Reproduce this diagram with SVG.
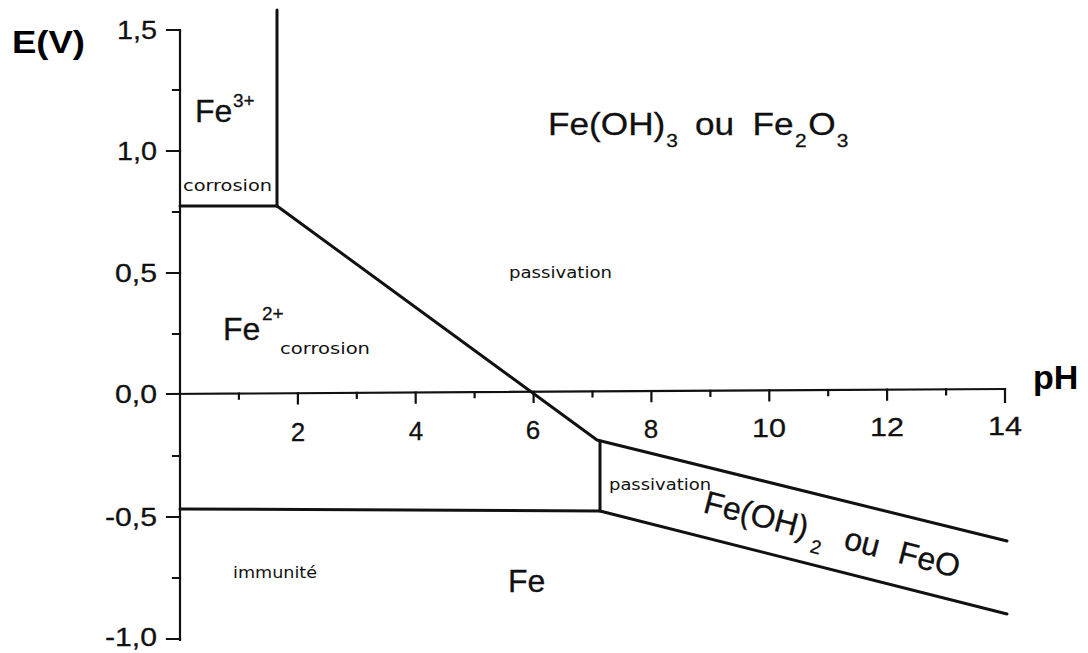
<svg xmlns="http://www.w3.org/2000/svg" width="1088" height="653" viewBox="0 0 1088 653">
<style>
.ax{stroke:#111;stroke-width:2.2;fill:none;stroke-linecap:square}
.bd{stroke:#111;stroke-width:3;fill:none;stroke-linejoin:round;stroke-linecap:round}
.num{font-family:"Liberation Sans",Arial,sans-serif;font-size:26px;fill:#111;stroke:#111;stroke-width:0.3}
.big{font-family:"Liberation Sans",Arial,sans-serif;font-size:32px;fill:#111;stroke:#111;stroke-width:0.3}
.sup{font-size:19px}
.sm{font-family:"DejaVu Sans",Verdana,sans-serif;font-size:16px;fill:#111}
.bold{font-family:"Liberation Sans",Arial,sans-serif;font-weight:bold;fill:#000}
</style>
<rect width="1088" height="653" fill="#fff"/>
<g id="axes">
  <line class="ax" x1="180" y1="30" x2="180" y2="640"/>
  <line class="ax" x1="167" y1="394" x2="1005" y2="389"/>
  <path class="ax" d="M167 30H180M167 151H180M167 273H180M167 517H180M167 639H180M173 90H180M173 212H180M173 334H180M173 456H180M173 578H180"/>
  <path class="ax" d="M238.9 393.6v5M297.9 393.3v10M356.8 392.9v5M415.7 392.6v10M474.6 392.2v5M533.6 391.9v10M592.5 391.5v5M651.4 391.1v10M710.4 390.8v5M769.3 390.4v10M828.2 390.1v5M887.1 389.7v10M946.1 389.4v5M1005 389v13"/>
  <g class="num" text-anchor="end">
    <text x="157" y="39" textLength="40" lengthAdjust="spacingAndGlyphs">1,5</text>
    <text x="157" y="160" textLength="40" lengthAdjust="spacingAndGlyphs">1,0</text>
    <text x="157" y="282" textLength="42" lengthAdjust="spacingAndGlyphs">0,5</text>
    <text x="157" y="403" textLength="42" lengthAdjust="spacingAndGlyphs">0,0</text>
    <text x="157" y="526" textLength="52" lengthAdjust="spacingAndGlyphs">-0,5</text>
    <text x="157" y="646" textLength="52" lengthAdjust="spacingAndGlyphs">-1,0</text>
  </g>
  <g class="num" text-anchor="middle">
    <text x="298" y="441">2</text>
    <text x="416" y="440">4</text>
    <text x="533" y="439">6</text>
    <text x="651" y="438">8</text>
    <text x="769" y="437" textLength="34" lengthAdjust="spacingAndGlyphs">10</text>
    <text x="887" y="436" textLength="34" lengthAdjust="spacingAndGlyphs">12</text>
    <text x="1005" y="435" textLength="34" lengthAdjust="spacingAndGlyphs">14</text>
  </g>
  <text class="bold" x="12" y="53" font-size="32" textLength="73" lengthAdjust="spacingAndGlyphs">E(V)</text>
  <text class="bold" x="1033" y="389" font-size="34">pH</text>
</g>
<g id="connectors">
  <line class="bd" x1="277" y1="10" x2="277" y2="206"/>
  <line class="bd" x1="180" y1="206" x2="277" y2="206"/>
  <polyline class="bd" points="277,206 597,440 1007,541"/>
  <line class="bd" x1="600" y1="441" x2="600" y2="511"/>
  <polyline class="bd" points="180,509 600,511 1007,614"/>
</g>
<g id="fe3">
  <text class="big" x="195" y="122" font-size="31">Fe<tspan class="sup" x="233" y="107">3+</tspan></text>
  <text class="sm" x="183" y="191" textLength="89" lengthAdjust="spacingAndGlyphs">corrosion</text>
</g>
<g id="feoh3">
  <text class="big" transform="translate(548,135) scale(1.1,1)">Fe(OH)<tspan class="sup" x="107.5" y="12">3</tspan><tspan x="133.6" y="0">ou</tspan><tspan x="186" y="0">Fe</tspan><tspan class="sup" x="224.5" y="12">2</tspan><tspan x="236.5" y="0">O</tspan><tspan class="sup" x="262.5" y="12">3</tspan></text>
  <text class="sm" x="509" y="278" textLength="103" lengthAdjust="spacingAndGlyphs">passivation</text>
</g>
<g id="fe2">
  <text class="big" x="223" y="340">Fe<tspan class="sup" x="262" y="320">2+</tspan></text>
  <text class="sm" x="280" y="354" textLength="90" lengthAdjust="spacingAndGlyphs">corrosion</text>
</g>
<g id="feoh2">
  <text class="sm" x="609" y="490" textLength="102" lengthAdjust="spacingAndGlyphs">passivation</text>
  <text class="big" font-size="34" transform="translate(702,512) rotate(14.5)">Fe(OH)<tspan class="sup" x="113.5" y="12">2</tspan><tspan x="145" y="0">ou</tspan><tspan x="201" y="0">FeO</tspan></text>
</g>
<g id="fe">
  <text class="sm" x="233" y="578" textLength="84" lengthAdjust="spacingAndGlyphs">immunité</text>
  <text class="big" x="508" y="592" font-size="33">Fe</text>
</g>
</svg>
